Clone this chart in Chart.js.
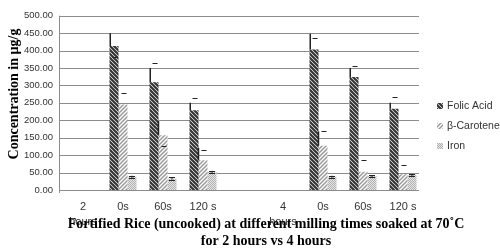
<!DOCTYPE html>
<html>
<head>
<meta charset="utf-8">
<script src="https://cdn.jsdelivr.net/npm/chart.js@4/dist/chart.umd.min.js"></script>
<style>
  html, body { margin: 0; padding: 0; background: #fff; }
  #wrap { width: 500px; height: 252px; position: relative; }
</style>
</head>
<body>
<div id="wrap"><canvas id="grafico" width="500" height="252"></canvas></div>
<script>
// ---------- datos ----------
const categorias = [["2", "hours"], "0s", "60s", "120 s", "", ["4", "hours"], "0s", "60s", "120 s"];
const folicAcid  = [null, 413, 309, 229, null, null, 403, 324, 233];
const betaCarotene = [null, 245, 157, 85, null, null, 127, 52, 45];
const iron       = [null, 38, 33, 52, null, null, 38, 40, 43];

// barras de error (tal como aparecen en la figura)
const folicLinea = [0, 37, 41, 21, 0, 0, 45, 26, 17];
const folicMarca = [0, -31, 54, 34, 0, 0, 34, 33, 34];
const betaLinea  = [0, 0, 41, 36, 0, 0, 41, 0, 0];
const betaMarca  = [0, 32, -31, 31, 0, 0, 41, 33, 27];
const ironError  = [0, 3, 3, 3, 0, 0, 3, 3, 3];

const yTicks = [0, 50, 100, 150, 200, 250, 300, 350, 400, 450, 500];
const leyenda = ["Folic Acid", "β-Carotene", "Iron"];
const tituloLineas = ["Fortified Rice (uncooked) at different milling times soaked at 70˚C", "for 2 hours vs 4 hours"];
const tituloEjeY = "Concentration in µg/g";

// ---------- patrones ----------
function crearPatron(tipo) {
    const c = document.createElement("canvas");
    const ctx = c.getContext("2d");
    if (tipo === "folic") {
        c.width = 4; c.height = 4;
        ctx.fillStyle = "#fff"; ctx.fillRect(0, 0, 4, 4);
        ctx.strokeStyle = "#333"; ctx.lineWidth = 2.2;
        ctx.beginPath();
        ctx.moveTo(-1, -1); ctx.lineTo(5, 5);
        ctx.moveTo(-3, 1); ctx.lineTo(1, 5);
        ctx.moveTo(3, -1); ctx.lineTo(5, 1);
        ctx.stroke();
    } else if (tipo === "beta") {
        c.width = 4; c.height = 4;
        ctx.fillStyle = "#fff"; ctx.fillRect(0, 0, 4, 4);
        ctx.strokeStyle = "#9a9a9a"; ctx.lineWidth = 1.5;
        ctx.beginPath();
        ctx.moveTo(-1, 5); ctx.lineTo(5, -1);
        ctx.moveTo(-1, 1); ctx.lineTo(1, -1);
        ctx.moveTo(3, 5); ctx.lineTo(5, 3);
        ctx.stroke();
    } else {
        c.width = 2; c.height = 2;
        ctx.fillStyle = "#e6e6e6"; ctx.fillRect(0, 0, 2, 2);
        ctx.fillStyle = "#b0b0b0";
        ctx.fillRect(0, 0, 1, 1); ctx.fillRect(1, 1, 1, 1);
    }
    return ctx.createPattern(c, "repeat");
}

const patrones = [crearPatron("folic"), crearPatron("beta"), crearPatron("iron")];

// ---------- plugins ----------
const rejillaPlugin = {
    id: "rejilla",
    beforeDatasetsDraw(chart) {
        const { ctx, scales: { y } } = chart;
        ctx.save();
        ctx.strokeStyle = "#8c8c8c";
        ctx.lineWidth = 1;
        yTicks.forEach(v => {
            const py = Math.round(y.getPixelForValue(v)) + 0.5;
            ctx.beginPath(); ctx.moveTo(59, py); ctx.lineTo(419, py); ctx.stroke();
        });
        ctx.beginPath();
        ctx.moveTo(59.5, y.getPixelForValue(500)); ctx.lineTo(59.5, y.getPixelForValue(0) + 3);
        ctx.stroke();
        ctx.restore();
    }
};

const erroresPlugin = {
    id: "errores",
    afterDatasetsDraw(chart) {
        const { ctx, scales: { y } } = chart;
        const dibujarMarca = (x, v, w) => {
            const py = Math.round(y.getPixelForValue(v)) + 0.5;
            ctx.beginPath(); ctx.moveTo(x - w / 2, py); ctx.lineTo(x + w / 2, py); ctx.stroke();
        };
        const dibujarLinea = (x, v1, v2) => {
            ctx.beginPath();
            ctx.moveTo(x, y.getPixelForValue(v1)); ctx.lineTo(x, y.getPixelForValue(v2));
            ctx.stroke();
        };
        ctx.save();
        const mf = chart.getDatasetMeta(0).data;
        const mb = chart.getDatasetMeta(1).data;
        const mi = chart.getDatasetMeta(2).data;
        ctx.strokeStyle = "#222";
        ctx.lineWidth = 1.5;
        folicAcid.forEach((v, i) => {
            if (v === null) return;
            const b = mf[i];
            if (folicLinea[i]) dibujarLinea(b.x - b.width / 2 + 0.75, v, v + folicLinea[i]);
            if (betaLinea[i]) dibujarLinea(b.x + b.width / 2, betaCarotene[i], betaCarotene[i] + betaLinea[i]);
        });
        ctx.lineWidth = 1;
        folicAcid.forEach((v, i) => {
            if (v === null) return;
            dibujarMarca(mf[i].x + 1, v + folicMarca[i], 5);
            dibujarMarca(mb[i].x + 1, betaCarotene[i] + betaMarca[i], 5);
            const e = ironError[i];
            dibujarMarca(mi[i].x, iron[i] + e, 6);
            dibujarMarca(mi[i].x, iron[i] - e, 6);
            dibujarLinea(mi[i].x, iron[i] - e, iron[i] + e);
        });
        ctx.restore();
    }
};

const textosPlugin = {
    id: "textos",
    afterDraw(chart) {
        const { ctx } = chart;
        ctx.save();
        // titulo inferior
        ctx.fillStyle = "#000";
        ctx.font = "bold 14px 'Liberation Serif', serif";
        ctx.textAlign = "center";
        ctx.textBaseline = "middle";
        ctx.fillText(tituloLineas[0], 266, 224);
        ctx.fillText(tituloLineas[1], 266, 241);
        // titulo eje Y
        ctx.translate(14, 94);
        ctx.rotate(-Math.PI / 2);
        ctx.font = "bold 14px 'Liberation Serif', serif";
        ctx.fillText(tituloEjeY, 0, 0);
        ctx.restore();
        // leyenda
        ctx.save();
        ctx.font = "10.5px 'Liberation Sans', sans-serif";
        ctx.textBaseline = "middle";
        ctx.textAlign = "left";
        leyenda.forEach((t, i) => {
            const py = 106 + i * 20;
            ctx.fillStyle = patrones[i];
            ctx.fillRect(437, py - 3, 6, 6);
            ctx.fillStyle = "#333";
            ctx.fillText(t, 447, py);
        });
        ctx.restore();
    }
};

// ---------- grafico ----------
const series = [folicAcid, betaCarotene, iron];

new Chart(document.getElementById("grafico"), {
    type: "bar",
    data: {
        labels: categorias,
        datasets: series.map((d, i) => ({
            label: leyenda[i],
            data: d,
            backgroundColor: patrones[i],
            borderWidth: 0,
            categoryPercentage: 0.675,
            barPercentage: 1
        }))
    },
    options: {
        responsive: false,
        animation: false,
        devicePixelRatio: 1,
        layout: { padding: { left: 0, right: 77, top: 7, bottom: 0 } },
        plugins: {
            legend: { display: false },
            title: { display: false },
            tooltip: { enabled: false }
        },
        scales: {
            x: {
                grid: { display: false, drawTicks: false },
                border: { display: false },
                ticks: {
                    color: "#333",
                    font: { family: "'Liberation Sans', sans-serif", size: 11, lineHeight: 1.35 },
                    padding: 10,
                    maxRotation: 0,
                    autoSkip: false
                },
                afterFit: s => { s.height = 62; }
            },
            y: {
                min: 0,
                max: 500,
                grid: { display: false, drawTicks: false },
                border: { display: false },
                ticks: {
                    stepSize: 50,
                    color: "#333",
                    padding: 10,
                    font: { family: "'Liberation Sans', sans-serif", size: 9.5 },
                    callback: v => v.toFixed(2)
                },
                afterFit: s => { s.width = 63; }
            }
        }
    },
    plugins: [rejillaPlugin, erroresPlugin, textosPlugin]
});
</script>
</body>
</html>
